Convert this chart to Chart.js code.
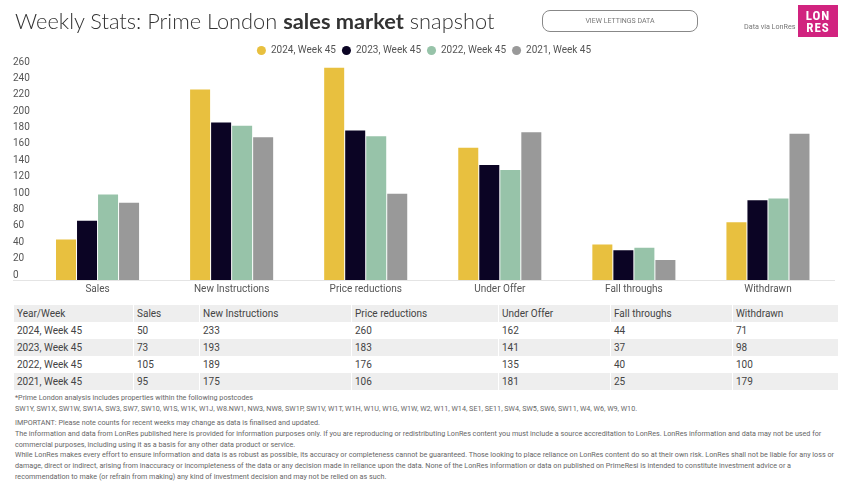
<!DOCTYPE html>
<html>
<head>
<meta charset="utf-8">
<script src="https://cdn.jsdelivr.net/npm/chart.js@4"></script>
<style>
html,body{margin:0;padding:0;background:#fff;width:847px;height:483px;overflow:hidden;font-family:Roboto,sans-serif}
#wrap{position:absolute;left:0;top:0;width:847px;height:300px}
h1{position:absolute;left:15px;top:5.5px;margin:0;font:300 21.8px/30px Lato,sans-serif;color:#333;white-space:nowrap}
h1 b{font-weight:700}
#btn{position:absolute;left:542px;top:10px;width:154px;height:20px;border:1px solid #888;border-radius:8px;text-align:center;font-size:7px;line-height:20px;color:#777}
#via{position:absolute;left:744px;top:22px;font-size:7.2px;line-height:10px;color:#777;white-space:nowrap}
#logo{position:absolute;left:798px;top:5px;width:40px;height:32px;background:#D1237F;color:#fff;font:700 13px/11.5px "Roboto Condensed","Liberation Sans Narrow",Roboto,sans-serif;text-align:center;padding-top:5px;box-sizing:border-box;letter-spacing:1px}
table{position:absolute;left:13px;top:305px;width:825px;border-collapse:separate;border-spacing:0;table-layout:fixed;font-size:10px;color:#444}
td{height:17.1px;padding:0 0 0 3px;box-sizing:border-box;line-height:16px;white-space:nowrap;border-left:1px solid #fff}
tr.s td{background:#eeeeee}
.f{position:absolute;left:15px;font-size:7.2px;line-height:10px;color:#666;white-space:nowrap}
</style>
</head>
<body>
<div id="wrap"><canvas id="c"></canvas></div>
<h1>Weekly Stats: Prime London <b>sales market</b> snapshot</h1>
<div id="btn">VIEW LETTINGS DATA</div>
<div id="via">Data via LonRes</div>
<div id="logo">LON<br>RES</div>
<table id="t"></table>
<div id="foot"></div>
<script>
const categories = ["Sales","New Instructions","Price reductions","Under Offer","Fall throughs","Withdrawn"];
const seriesNames = ["2024, Week 45","2023, Week 45","2022, Week 45","2021, Week 45"];
const values2024 = [50,233,260,162,44,71];
const values2023 = [73,193,183,141,37,98];
const values2022 = [105,189,176,135,40,100];
const values2021 = [95,175,106,181,25,179];
const seriesColors = ["#E8C03F","#0B0424","#97C3A9","#999999"];
const columnWidths = [120,66,152,147,112,122,106];
const footLines = [
 [393,"*Prime London analysis includes properties within the following postcodes"],
 [404,"SW1Y, SW1X, SW1W, SW1A, SW3, SW7, SW10, W1S, W1K, W1J, W8.NW1, NW3, NW8, SW1P, SW1V, W1T, W1H, W1U, W1G, W1W, W2, W11, W14, SE1, SE11, SW4, SW5, SW6, SW11, W4, W6, W9, W10."],
 [418,"IMPORTANT: Please note counts for recent weeks may change as data is finalised and updated."],
 [429,"The information and data from LonRes published here is provided for information purposes only. If you are reproducing or redistributing LonRes content you must include a source accreditation to LonRes. LonRes information and data may not be used for"],
 [439.5,"commercial purposes, including using it as a basis for any other data product or service."],
 [450,"While LonRes makes every effort to ensure information and data is as robust as possible, its accuracy or completeness cannot be guaranteed. Those looking to place reliance on LonRes content do so at their own risk. LonRes shall not be liable for any loss or"],
 [461,"damage, direct or indirect, arising from inaccuracy or incompleteness of the data or any decision made in reliance upon the data. None of the LonRes information or data on published on PrimeResi is intended to constitute investment advice or a"],
 [471.5,"recommendation to make (or refrain from making) any kind of investment decision and may not be relied on as such."]
];

const allValues = [values2024,values2023,values2022,values2021];

// table
const t = document.getElementById('t');
let html = '<colgroup>'+columnWidths.map(w=>'<col style="width:'+w+'px">').join('')+'</colgroup>';
html += '<tr class="s"><td>Year/Week</td>'+categories.map(c=>'<td>'+c+'</td>').join('')+'</tr>';
seriesNames.forEach((n,i)=>{
  html += '<tr'+(i%2?' class="s"':'')+'><td>'+n+'</td>'+allValues[i].map(v=>'<td>'+v+'</td>').join('')+'</tr>';
});
t.innerHTML = html;

// footer
document.getElementById('foot').innerHTML = footLines.map(l=>'<div class="f" style="top:'+l[0]+'px">'+l[1]+'</div>').join('');

// chart
const legendSpacer = {
  id:'legendSpacer',
  beforeInit(chart){
    const fit = chart.legend.fit;
    chart.legend.fit = function(){ fit.call(this); this.height += 2; };
  }
};
const axisFont = {family:'Roboto',size:10};
new Chart(document.getElementById('c'),{
  type:'bar',
  plugins:[legendSpacer],
  data:{labels:categories,datasets:seriesNames.map((n,i)=>({
    label:n,data:allValues[i],backgroundColor:seriesColors[i],borderWidth:0,
    categoryPercentage:0.627,barPercentage:0.952
  }))},
  options:{
    responsive:true,maintainAspectRatio:false,animation:false,
    layout:{padding:{top:39.5,left:13,right:12,bottom:0}},
    plugins:{
      tooltip:{enabled:false},
      legend:{position:'top',labels:{usePointStyle:true,pointStyle:'circle',boxWidth:9,boxHeight:6.4,padding:6,font:axisFont,color:'#555'}}
    },
    scales:{
      x:{
        afterFit(s){s.height=19.5;},
        grid:{display:false,drawTicks:false},border:{display:false},
        ticks:{font:axisFont,color:'#555',padding:3,maxRotation:0}
      },
      y:{
        min:0,max:260,
        afterFit(s){s.width=17.5;},
        border:{display:false},
        grid:{tickLength:17.5,lineWidth:1,
          color:c=>c.tick&&c.tick.value===0?'#e4e4e4':'transparent',
          tickColor:c=>c.tick&&c.tick.value===0?'#e4e4e4':'transparent'},
        ticks:{stepSize:20,font:axisFont,color:'#555',crossAlign:'far',labelOffset:-5.5,autoSkip:false}
      }
    }
  }
});
</script>
</body>
</html>
